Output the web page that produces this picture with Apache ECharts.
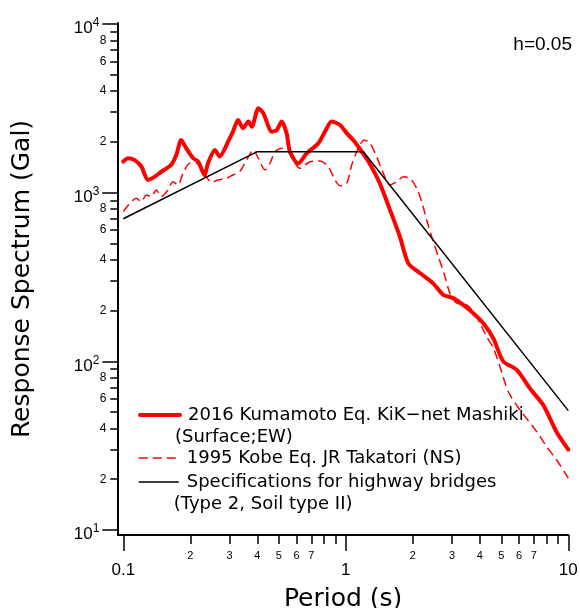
<!DOCTYPE html>
<html>
<head>
<meta charset="utf-8">
<script src="https://cdn.jsdelivr.net/npm/echarts@6/dist/echarts.min.js"></script>
<style>html,body{margin:0;padding:0;background:#fff}#c{width:580px;height:608px}</style>
</head>
<body>
<div id="c"></div>
<script>
// Kumamoto 2016 KiK-net Mashiki (Surface; EW)
var kumamotoT = [0.1,0.105,0.1125,0.1205,0.129,0.138,0.148,0.164,0.173,0.182,0.192,0.206,0.217,0.232,0.240,0.258,0.271,0.296,0.311,0.328,0.345,0.365,0.378,0.405,0.426,0.465,0.489,0.515,0.542,0.561,0.611,0.667,0.752,0.806,0.864,0.942,1.01,1.08,1.18,1.28,1.42,1.58,1.75,1.91,2.16,2.47,2.74,3.04,3.37,3.74,4.15,4.60,5.10,5.87,6.73,7.72,8.87,10];
var kumamotoSa = [1530,1600,1560,1430,1190,1240,1330,1460,1670,2050,1830,1600,1530,1270,1490,1790,1640,2010,2300,2700,2410,2640,2460,3170,2960,2300,2350,2640,2250,1750,1490,1710,1960,2300,2640,2520,2250,2050,1750,1490,1140,790,549,381,333,290,248,237,216,193,168,137,100,89,69,55,38,30];
// Kobe 1995 JR Takatori (NS)
var kobeT = [0.1,0.1144,0.1205,0.1269,0.1336,0.1407,0.1482,0.1588,0.1672,0.1762,0.1855,0.1988,0.2129,0.2242,0.236,0.2486,0.2665,0.2903,0.3112,0.3336,0.3585,0.3838,0.4045,0.4334,0.4563,0.4806,0.5151,0.5512,0.6223,0.6902,0.7656,0.8342,0.8942,0.9417,1.009,1.063,1.138,1.207,1.284,1.376,1.474,1.579,1.693,1.813,1.943,2.083,2.193,2.31,2.432,2.605,2.791,2.939,3.149,3.493,3.741,4.009,4.297,4.602,4.931,5.373,6.066,7.211,7.992,8.867,10];
var kobeSa = [772,926,884,969,947,1038,947,1038,1162,1111,1303,1494,1494,1395,1244,1152,1189,1217,1273,1332,1562,1791,1600,1363,1494,1750,1834,1750,1395,1527,1541,1427,1189,1100,1137,1460,1834,2053,1963,1635,1303,1111,1162,1244,1217,1062,884,689,549,418,318,253,221,216,197,168,140,120,93,66,51.5,38.3,31.2,26,20.3];
// Specifications for highway bridges (Type 2, Soil type II)
var specT = [0.1,0.4,1.2,10];
var specSa = [700,1750,1750,51];

var xMajorTicks = [0.1,1,10];
var xMinorTicks = [0.2,0.3,0.4,0.5,0.6,0.7,0.8,0.9,2,3,4,5,6,7,8,9];
var xMinorLabels = [0.2,0.3,0.4,0.5,0.6,0.7,2,3,4,5,6,7];
var yMajorTicks = [10,100,1000,10000];
var yMinorTicks = [20,30,40,50,60,70,80,90,200,300,400,500,600,700,800,900,2000,3000,4000,5000,6000,7000,8000,9000];
var yMinorLabels = [20,40,60,80,200,400,600,800,2000,4000,6000,8000];

var seriesNames = ['2016 Kumamoto Eq. KiK\u2212net Mashiki','1995 Kobe Eq. JR Takatori (NS)','Specifications for highway bridges'];
var secondLines = ['(Surface;EW)', null, '(Type 2, Soil type II)'];

function zip(a,b){var r=[];for(var i=0;i<a.length;i++)r.push([a[i],b[i]]);return r;}
function leadDigit(v){var e=Math.floor(Math.log10(v)+1e-9);return String(Math.round(v/Math.pow(10,e)));}

var NUM = 'Liberation Sans';
var TXT = 'DejaVu Sans';
var BLACK = '#000';
var RED = '#ff0000';
var lineStyles = [
  {width:4, color:RED, type:'solid'},
  {width:1.5, color:RED, type:[9,5]},
  {width:1.5, color:BLACK, type:'solid'}
];
var legendTops = [382, 447, 449];

function makeLegend(i){
  return {
    orient:'vertical', left:138, top:legendTops[i], padding:0, itemGap:0, itemWidth:40, itemHeight:14,
    selectedMode:false,
    textStyle:{fontSize:18, lineHeight:22, fontFamily:TXT, color:BLACK, padding:[0,0,0,-10],
      rich:{
        g:{width:13, fontSize:18, lineHeight:22, fontFamily:TXT},
        t:{fontSize:18, lineHeight:22, fontFamily:TXT, color:BLACK}
      }},
    formatter:function(n){
      var first = '{g| }{t|' + n + '}';
      return secondLines[i] ? '{t| }\n' + first + '\n{t|' + secondLines[i] + '}' : first;
    },
    data:[{name:seriesNames[i], lineStyle:lineStyles[i], itemStyle:{opacity:0}}]
  };
}

var gridPos = {left:123.3, top:24, right:11.7, bottom:78, outerBoundsMode:'none', containLabel:false};

var chart = echarts.init(document.getElementById('c'), null, {renderer:'canvas'});
chart.setOption({
  animation:false,
  backgroundColor:'#fff',
  title:{text:'h=0.05', right:8, top:35, padding:0, textStyle:{fontSize:19, fontWeight:'normal', fontFamily:NUM, color:BLACK}},
  legend:[makeLegend(0), makeLegend(1), makeLegend(2)],
  grid:[
    gridPos,
    Object.assign({}, gridPos),
    {left:118, top:23, right:11.7, bottom:73, outerBoundsMode:'none', containLabel:false}
  ],
  xAxis:[
    {type:'log', logBase:10, gridIndex:0, min:0.1, max:10, offset:5,
     axisLine:{show:false}, splitLine:{show:false},
     axisTick:{show:true, customValues:xMajorTicks, length:16, lineStyle:{color:BLACK, width:1.5}},
     axisLabel:{customValues:xMajorTicks, margin:27, fontSize:17, fontFamily:NUM, color:BLACK,
       formatter:function(v){return String(+(+v).toPrecision(3));}}},
    {type:'log', logBase:10, gridIndex:1, min:0.1, max:10, offset:5,
     axisLine:{show:false}, splitLine:{show:false},
     axisTick:{show:true, customValues:xMinorTicks, length:9, lineStyle:{color:BLACK, width:1.5}},
     axisLabel:{customValues:xMinorLabels, margin:15, fontSize:11, fontFamily:NUM, color:BLACK,
       formatter:function(v){return leadDigit(v);}}},
    {type:'value', gridIndex:2, min:0, max:1,
     axisLine:{show:true, lineStyle:{color:BLACK, width:2}}, axisTick:{show:false}, axisLabel:{show:false}, splitLine:{show:false},
     name:'Period (s)', nameLocation:'middle', nameGap:52, nameMoveOverlap:false,
     nameTextStyle:{fontSize:25, fontFamily:TXT, color:BLACK}}
  ],
  yAxis:[
    {type:'log', logBase:10, gridIndex:0, min:10, max:10000, offset:5,
     axisLine:{show:false}, splitLine:{show:false},
     axisTick:{show:true, customValues:yMajorTicks, length:16, lineStyle:{color:BLACK, width:1.5}},
     axisLabel:{customValues:yMajorTicks, margin:19, color:BLACK,
       formatter:function(v){return '{b|10}{s|'+Math.round(Math.log10(v))+'}';},
       rich:{b:{fontSize:17, fontFamily:NUM, color:BLACK, lineHeight:18, padding:[9,0,0,0]},
             s:{fontSize:12, fontFamily:NUM, color:BLACK, lineHeight:12, verticalAlign:'top', padding:[2,0,0,0]}}}},
    {type:'log', logBase:10, gridIndex:1, min:10, max:10000, offset:5,
     axisLine:{show:false}, splitLine:{show:false},
     axisTick:{show:true, customValues:yMinorTicks, length:8, lineStyle:{color:BLACK, width:1.5}},
     axisLabel:{customValues:yMinorLabels, margin:12, fontSize:12, fontFamily:NUM, color:BLACK,
       formatter:function(v){return leadDigit(v);}}},
    {type:'value', gridIndex:2, min:0, max:1,
     axisLine:{show:true, lineStyle:{color:BLACK, width:2}}, axisTick:{show:false}, axisLabel:{show:false}, splitLine:{show:false},
     name:'Response Spectrum (Gal)', nameLocation:'middle', nameRotate:90, nameGap:83, nameMoveOverlap:false,
     nameTextStyle:{fontSize:25, fontFamily:TXT, color:BLACK}}
  ],
  series:[
    {name:seriesNames[0], type:'line', xAxisIndex:0, yAxisIndex:0, data:zip(kumamotoT,kumamotoSa), symbol:'none', smooth:0.25,
     lineStyle:{color:RED, width:4, cap:'round', join:'round'}, itemStyle:{color:RED}, z:3},
    {name:seriesNames[1], type:'line', xAxisIndex:0, yAxisIndex:0, data:zip(kobeT,kobeSa), symbol:'none', smooth:0.25,
     lineStyle:{color:RED, width:1.5, type:[9,5]}, itemStyle:{color:RED}, z:2},
    {name:seriesNames[2], type:'line', xAxisIndex:0, yAxisIndex:0, data:zip(specT,specSa), symbol:'none',
     lineStyle:{color:BLACK, width:1.5}, itemStyle:{color:BLACK}, z:4}
  ]
});
</script>
</body>
</html>
